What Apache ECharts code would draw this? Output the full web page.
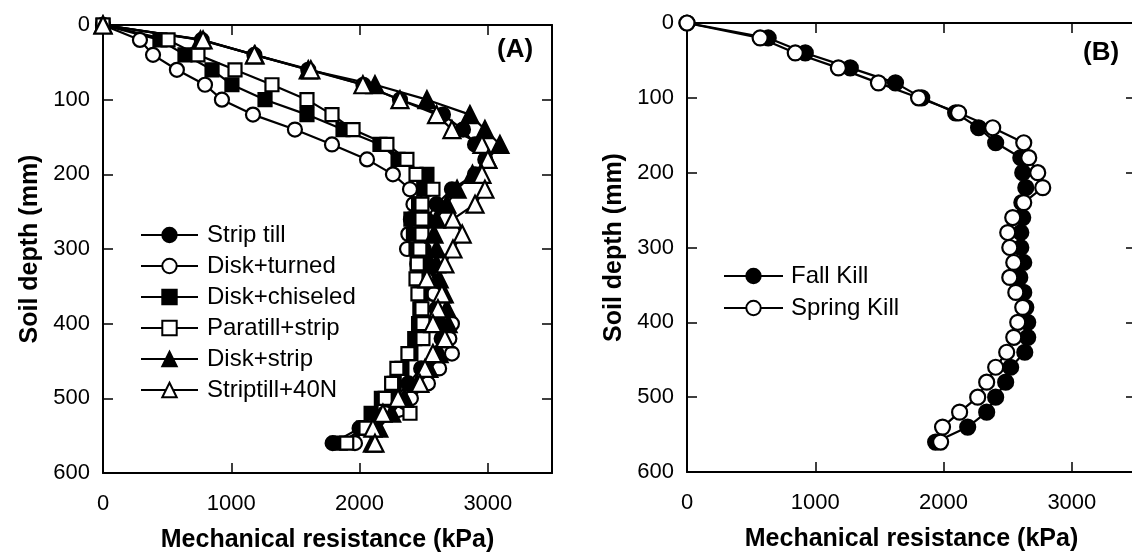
<!DOCTYPE html>
<html>
<head>
<meta charset="utf-8">
<script src="https://cdn.jsdelivr.net/npm/echarts@6/dist/echarts.min.js"></script>
<style>
  html, body { margin: 0; padding: 0; background: #fff; }
  #chart { width: 1132px; height: 554px; }
</style>
</head>
<body>
<div id="chart"></div>
<script>
// soil depth (mm) of each reading
const depths = [0, 20, 40, 60, 80, 100, 120, 140, 160, 180, 200, 220, 240, 260, 280,
  300, 320, 340, 360, 380, 400, 420, 440, 460, 480, 500, 520, 540, 560]

// panel A, mechanical resistance (kPa)
const stripTill = [0, 770, 1180, 1600, 2030, 2315, 2650, 2806, 2900, 2980, 2900, 2720, 2600, 2520, 2480,
  2500, 2530, 2550, 2570, 2600, 2620, 2640, 2600, 2480, 2380, 2280, 2200, 2000, 1790]
const diskTurned = [0, 288, 390, 576, 795, 927, 1169, 1496, 1785, 2058, 2260, 2393, 2420, 2400, 2380,
  2370, 2450, 2520, 2580, 2650, 2720, 2700, 2720, 2620, 2533, 2400, 2200, 2026, 1964]
const diskChiseled = [0, 444, 639, 850, 1005, 1263, 1590, 1871, 2159, 2300, 2525, 2500, 2460, 2400, 2420,
  2440, 2450, 2470, 2480, 2470, 2460, 2430, 2400, 2330, 2270, 2170, 2090, 2030, 1850]
const paratillStrip = [0, 507, 740, 1029, 1317, 1590, 1785, 1949, 2213, 2369, 2440, 2572, 2486, 2486, 2486,
  2470, 2450, 2440, 2455, 2486, 2494, 2494, 2377, 2291, 2250, 2200, 2393, 2050, 1900]
const diskStrip = [0, 760, 1185, 1600, 2120, 2525, 2860, 2977, 3094, 3000, 2880, 2760, 2680, 2600, 2580,
  2600, 2600, 2620, 2660, 2680, 2690, 2660, 2620, 2540, 2450, 2350, 2250, 2150, 2100]
const striptill40N = [0, 780, 1180, 1620, 2026, 2315, 2600, 2720, 2954, 3000, 2954, 2977, 2900, 2728, 2800,
  2728, 2665, 2525, 2642, 2611, 2572, 2665, 2572, 2510, 2470, 2300, 2182, 2104, 2120]

// panel B
const fallKill = [0, 633, 922, 1273, 1625, 1830, 2094, 2273, 2406, 2602, 2617, 2641, 2610, 2617, 2602,
  2602, 2625, 2594, 2625, 2641, 2656, 2656, 2633, 2523, 2484, 2406, 2336, 2188, 1938]
const springKill = [0, 570, 844, 1180, 1492, 1805, 2117, 2383, 2625, 2664, 2734, 2773, 2625, 2539, 2500,
  2516, 2547, 2516, 2563, 2617, 2578, 2547, 2492, 2406, 2336, 2266, 2125, 1992, 1977]

const xTicks = ['0', '1000', '2000', '3000']

const font = 'Liberation Sans, Arial, sans-serif'

const pairs = (vals) => vals.map((v, i) => [v, depths[i]])

const line = { onZero: false, lineStyle: { color: '#000', width: 2 } }
const tick = { inside: true, length: 10, lineStyle: { color: '#000', width: 1.5 } }

const xAxes = (grid) => [
  {
    type: 'value', gridIndex: grid, position: 'bottom', min: 0, max: 3500, interval: 1000,
    axisLine: line,
    axisTick: tick,
    axisLabel: {
      color: '#000', fontSize: 22, fontFamily: font, margin: 20,
      formatter: (v) => (xTicks.includes(String(v)) ? String(v) : '')
    },
    splitLine: { show: false },
    name: 'Mechanical resistance (kPa)', nameLocation: 'middle', nameGap: 55,
    nameTextStyle: { color: '#000', fontSize: 25, fontWeight: 'bold', fontFamily: font }
  },
  {
    type: 'value', gridIndex: grid, position: 'top', min: 0, max: 3500, interval: 1000,
    axisLine: line,
    axisTick: tick,
    axisLabel: { show: false },
    splitLine: { show: false }
  }
]

const yAxes = (grid) => [
  {
    type: 'value', gridIndex: grid, position: 'left', inverse: true, min: 0, max: 600, interval: 100,
    axisLine: line,
    axisTick: tick,
    axisLabel: { color: '#000', fontSize: 22, fontFamily: font, margin: 13 },
    splitLine: { show: false },
    name: 'Soil depth (mm)', nameLocation: 'middle', nameGap: 60,
    nameTextStyle: { color: '#000', fontSize: 25, fontWeight: 'bold', fontFamily: font }
  },
  {
    type: 'value', gridIndex: grid, position: 'right', inverse: true, min: 0, max: 600, interval: 100,
    axisLine: line,
    axisTick: tick,
    axisLabel: { show: false },
    splitLine: { show: false }
  }
]

const makeSeries = (name, vals, symbol, filled, size, axis) => ({
  name,
  type: 'line',
  xAxisIndex: axis,
  yAxisIndex: axis,
  data: pairs(vals),
  symbol,
  symbolSize: size,
  lineStyle: { color: '#000', width: 2.2 },
  itemStyle: { color: filled ? '#000' : '#fff', borderColor: '#000', borderWidth: 2.2 },
  emphasis: { disabled: true }
})

const chart = echarts.init(document.getElementById('chart'))

chart.setOption({
  backgroundColor: '#fff',
  animation: false,
  textStyle: { fontFamily: font },
  grid: [
    { left: 103, top: 25, width: 449, height: 448, outerBoundsMode: 'none' },
    { left: 687, top: 23, width: 449, height: 449, outerBoundsMode: 'none' }
  ],
  xAxis: [...xAxes(0), ...xAxes(1)],
  yAxis: [...yAxes(0), ...yAxes(1)],
  legend: [
    {
      data: ['Strip till', 'Disk+turned', 'Disk+chiseled', 'Paratill+strip', 'Disk+strip', 'Striptill+40N'],
      orient: 'vertical', left: 135, top: 218,
      itemWidth: 57, itemHeight: 18, itemGap: 7,
      textStyle: { color: '#000', fontSize: 24, lineHeight: 24, fontFamily: font, padding: [0, 0, 0, 4] },
      selectedMode: false
    },
    {
      data: ['Fall Kill', 'Spring Kill'],
      orient: 'vertical', left: 718, top: 259,
      itemWidth: 59, itemHeight: 18, itemGap: 8,
      textStyle: { color: '#000', fontSize: 24, lineHeight: 24, fontFamily: font, padding: [0, 0, 0, 3] },
      selectedMode: false
    }
  ],
  graphic: [
    { type: 'text', left: 497, top: 37, style: { text: '(A)', fontSize: 26, fontWeight: 'bold', fontFamily: font, fill: '#000' } },
    { type: 'text', left: 1083, top: 40, style: { text: '(B)', fontSize: 26, fontWeight: 'bold', fontFamily: font, fill: '#000' } }
  ],
  series: [
    makeSeries('Strip till', stripTill, 'circle', true, 14, 0),
    makeSeries('Disk+turned', diskTurned, 'circle', false, 14, 0),
    makeSeries('Disk+chiseled', diskChiseled, 'rect', true, 13, 0),
    makeSeries('Paratill+strip', paratillStrip, 'rect', false, 13, 0),
    makeSeries('Disk+strip', diskStrip, 'triangle', true, 17, 0),
    makeSeries('Striptill+40N', striptill40N, 'triangle', false, 17, 0),
    makeSeries('Fall Kill', fallKill, 'circle', true, 15, 2),
    makeSeries('Spring Kill', springKill, 'circle', false, 15, 2)
  ]
})
</script>
</body>
</html>
